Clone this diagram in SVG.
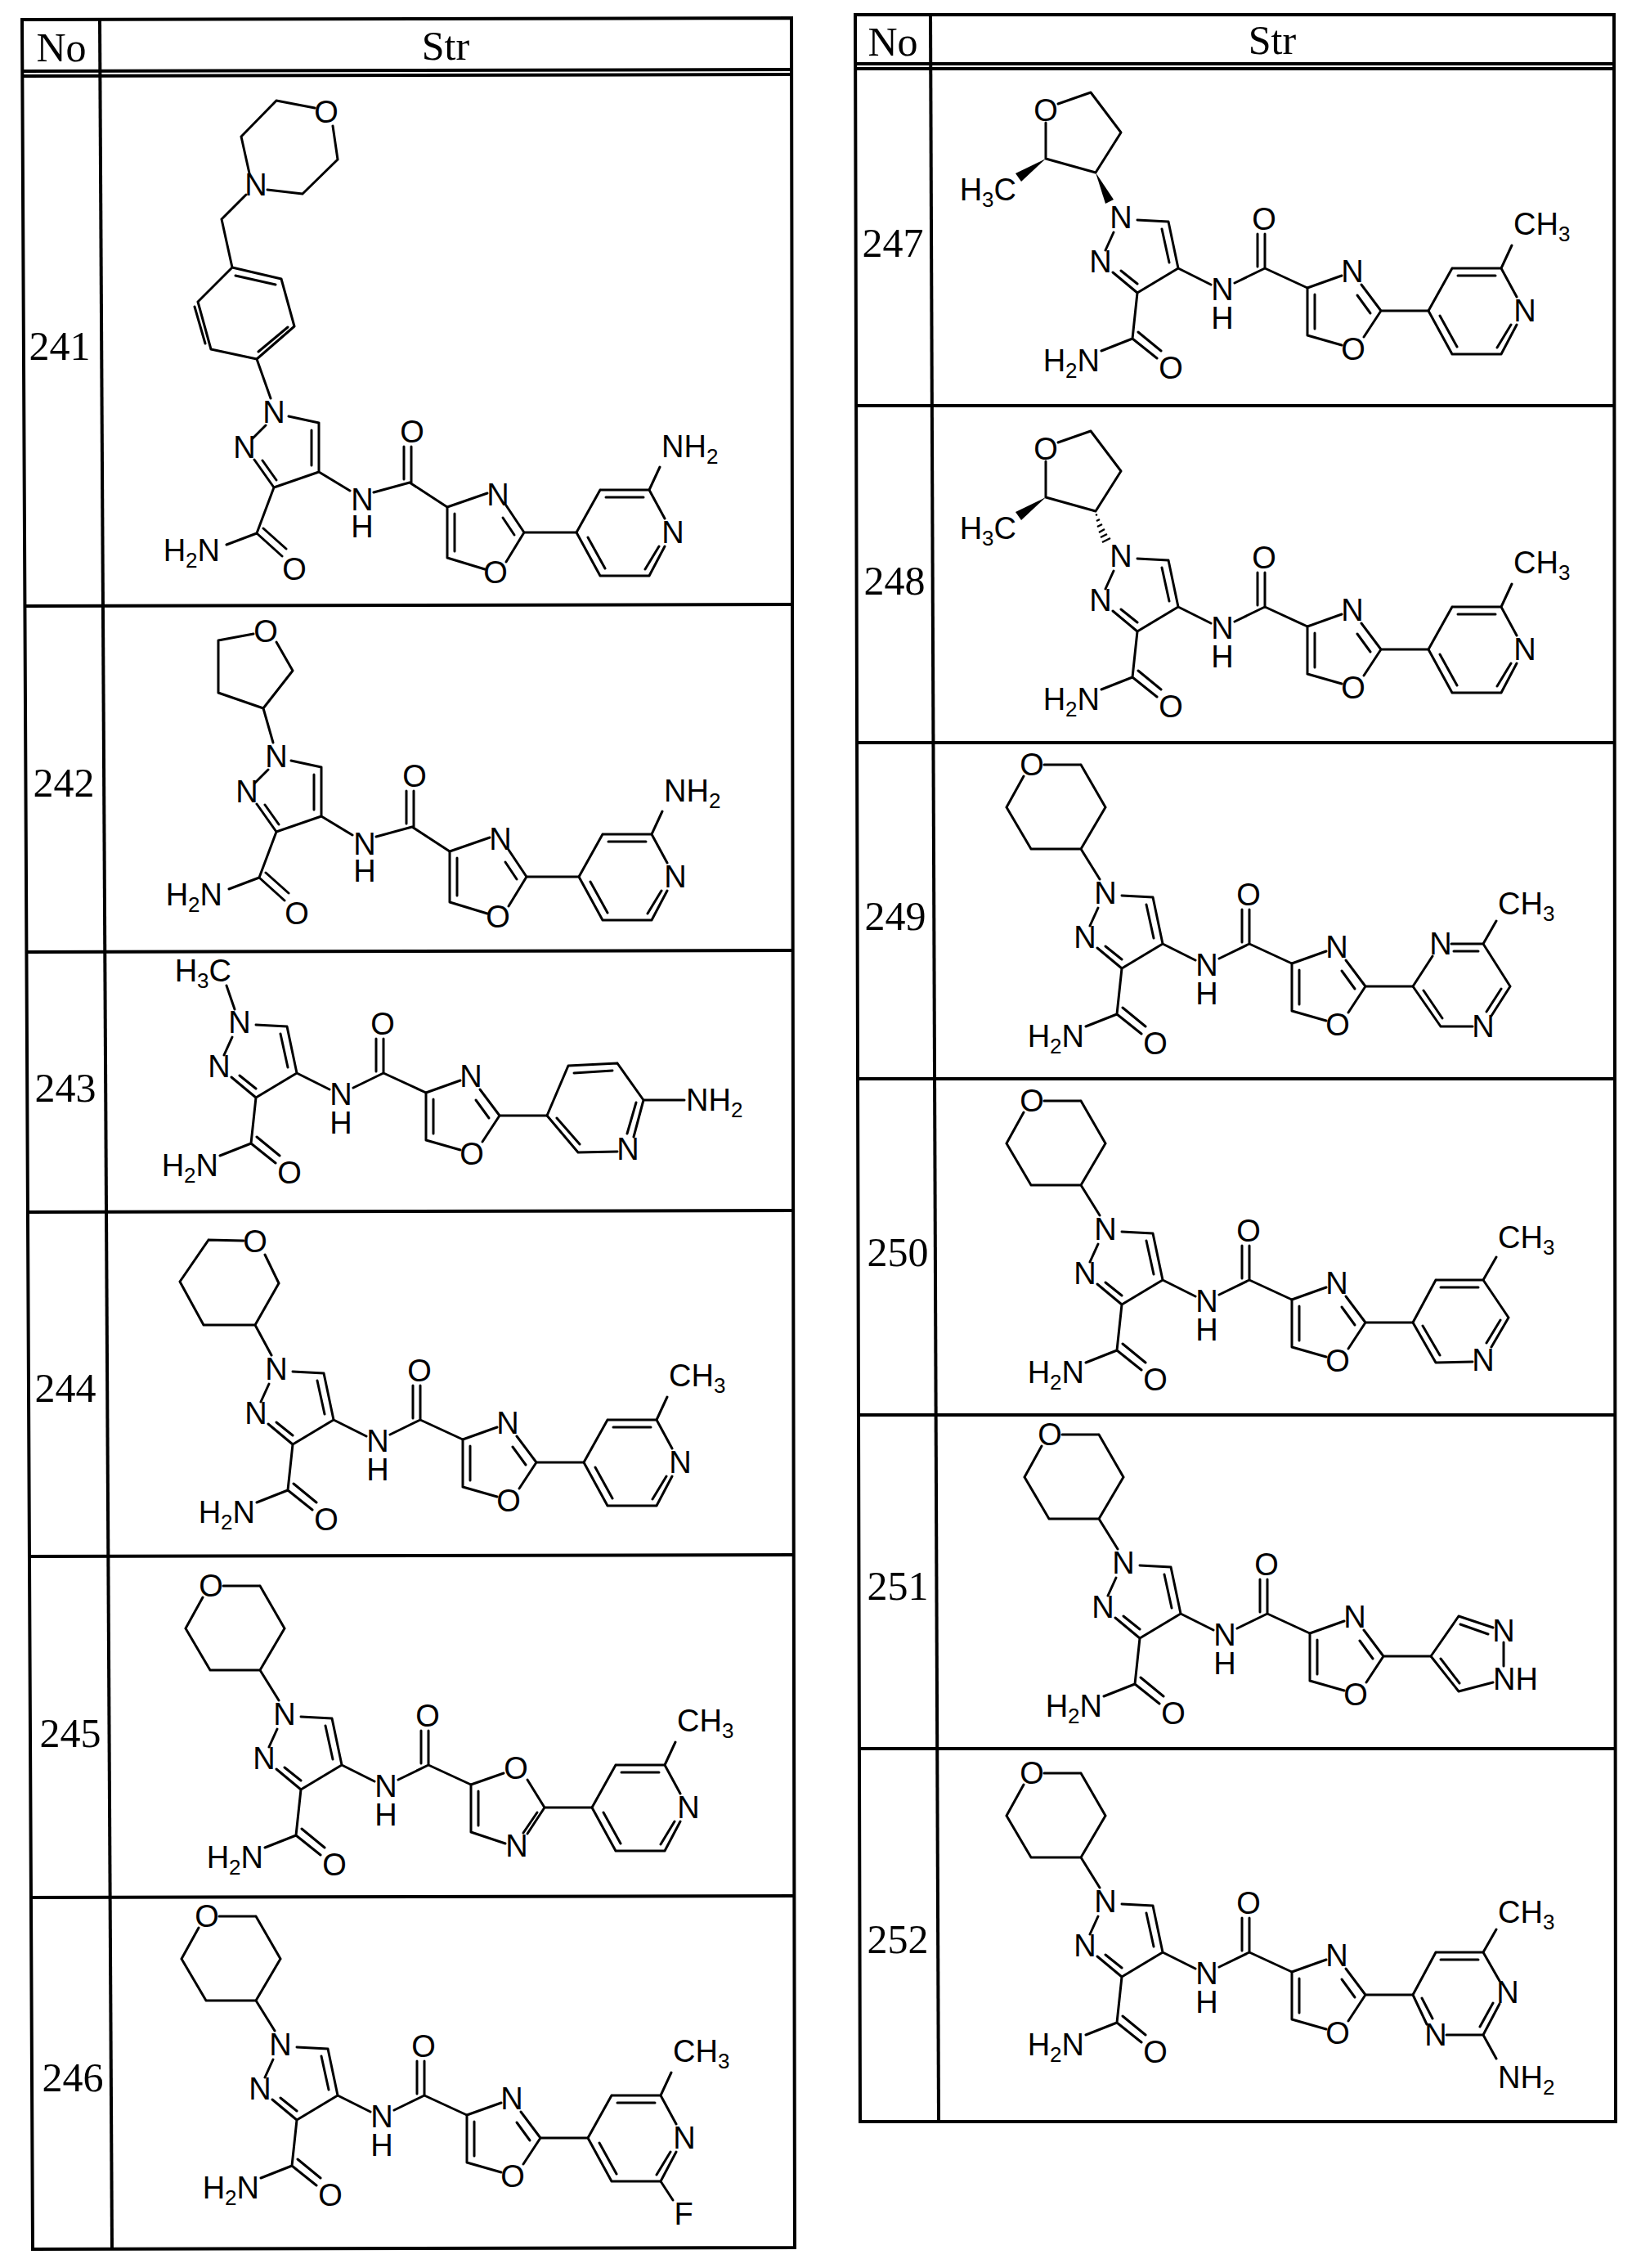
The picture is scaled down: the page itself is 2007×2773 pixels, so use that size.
<svg xmlns="http://www.w3.org/2000/svg" xmlns:xlink="http://www.w3.org/1999/xlink" width="2007" height="2773" viewBox="0 0 2007 2773">
<style>
.b{stroke:#000;stroke-width:3;fill:none;stroke-linecap:round}
.tb{stroke:#000;stroke-width:4;fill:none}
.a{font-family:"Liberation Sans",Arial,sans-serif;font-size:38px;fill:#000}
.m{text-anchor:middle}
.e{text-anchor:end}
.s{font-size:26px}
.t{font-family:"Liberation Serif","Times New Roman",serif;font-size:50px;fill:#000;text-anchor:middle}
</style>
<defs>
<g id="pz">
<path class="b" d="M18,5L55,13M55,13L55,73M46,22L46,65M55,73L0,92M0,92L-24,58M3,83L-14,59M-10,16L-26,32M55,73L93,96M122,98L166,86M168,86L168,42M159,82L159,42M166,86L212,116M0,92L-21,148M-21,148L-58,162M-21,148L10,176M-13,142L15,167"/>
<text class="a m" x="0" y="13">N</text>
<text class="a m" x="-36" y="56">N</text>
<text class="a m" x="108" y="120">N</text>
<text class="a m" x="108" y="153">H</text>
<text class="a m" x="169" y="37">O</text>
<text class="a m" x="25" y="205">O</text>
<text class="a e" x="-66" y="182">H<tspan class="s" dy="8">2</tspan><tspan dy="-8">N</tspan></text>
</g>
<g id="ox4">
<path class="b" d="M212,116L261,99M284,114L306,147M280,129L294,150M306,147L284,183M258,192L212,178M212,178L212,116M221,170L221,124M306,147L370,147"/>
<text class="a m" x="274" y="114">N</text>
<text class="a m" x="271" y="209">O</text>
</g>
<g id="pzf">
<path class="b" d="M20,3L58,5M58,5L70,62M50,14L59,55M70,62L20,92M20,92L-10,67M20,81L0,65M-19,40L-9,18M70,62L110,82M139,80L176,62M176,62L176,20M167,60L167,20M176,62L228,86M20,92L14,148M14,148L-24,163M14,148L44,172M21,140L49,163"/>
<text class="a m" x="0" y="13">N</text>
<text class="a m" x="-25" y="67">N</text>
<text class="a m" x="124" y="101">N</text>
<text class="a m" x="124" y="136">H</text>
<text class="a m" x="175" y="15">O</text>
<text class="a m" x="61" y="197">O</text>
<text class="a e" x="-26" y="188">H<tspan class="s" dy="8">2</tspan><tspan dy="-8">N</tspan></text>
</g>
<g id="oxf4">
<path class="b" d="M228,86L270,71M294,82L318,114M289,95L305,117M318,114L297,146M270,156L228,144M228,144L228,86M237,136L237,94M318,114L376,114"/>
<text class="a m" x="283" y="79">N</text>
<text class="a m" x="284" y="174">O</text>
</g>
<g id="oxf5">
<path class="b" d="M228,86L268,72M297,80L318,114M318,114L297,146M309,120L292,145M270,158L228,144M228,144L228,86M237,136L237,94M318,114L376,114"/>
<text class="a m" x="283" y="79">O</text>
<text class="a m" x="284" y="174">N</text>
</g>
<g id="pyr">
<path class="b" d="M0,0L29,-52M29,-52L89,-52M36,-43L82,-43M89,-52L108,-17M108,17L89,53M101,17L84,45M89,53L29,53M29,53L0,0M35,44L14,6M89,-52L102,-80"/>
<text class="a m" x="118" y="13">N</text>
</g>
<g id="thp4">
<path class="b" d="M-7,-17L-30,-54M-30,-54L0,-105M0,-105L-30,-157M-30,-157L-75,-157M-100,-143L-121,-105M-121,-105L-91,-54M-91,-54L-30,-54"/>
<text class="a m" x="-90" y="-144">O</text>
</g>
<g id="methf">
<path class="b" d="M-31,-55L0,-104M0,-104L-37,-153M-37,-153L-77,-139M-92,-116L-92,-72M-92,-72L-31,-55"/>
<polygon points="-92,-72 -122,-44 -129,-54" fill="#000"/>
<text class="a m" x="-92" y="-118">O</text>
<text class="a e" x="-128" y="-21">H<tspan class="s" dy="8">3</tspan><tspan dy="-8">C</tspan></text>
</g>
</defs>

<g id="table-left">
<path class="tb" d="M27,24L968,22L972,2748L40,2750Z"/>
<path class="tb" d="M122,24L137,2750"/>
<path class="tb" d="M28,87L968,85M28,93L968,91M30,741L969,739M31,1164L970,1162M32,1482L970,1480M35,1903L971,1901M37,2320L971,2318"/>
<text class="t" x="75" y="75">No</text>
<text class="t" x="545" y="73">Str</text>
</g>
<g id="table-right">
<path class="tb" d="M1046,18L1974,18L1976,2594L1052,2594Z"/>
<path class="tb" d="M1138,18L1148,2594"/>
<path class="tb" d="M1046,78L1974,78M1046,84L1974,84M1048,496L1975,496M1049,908L1975,908M1050,1319L1975,1319M1050,1730L1976,1730M1051,2138L1976,2138"/>
<text class="t" x="1092" y="68">No</text>
<text class="t" x="1556" y="66">Str</text>
</g>

<g id="c241">
<text class="t" x="73" y="440">241</text>
<g transform="translate(335,504)">
<use xlink:href="#pz"/><use xlink:href="#ox4"/>
<path class="b" d="M-4,-17L-21,-65M-21,-65L-77,-77M-77,-77L-93,-135M-84,-84L-97,-129M-93,-135L-51,-177M-51,-177L9,-163M-47,-167L2,-156M9,-163L25,-105M25,-105L-21,-65M17,-104L-19,-74M-51,-177L-64,-236M-64,-236L-34,-266M-8,-272L35,-267M35,-267L78,-309M78,-309L72,-350M50,-372L3,-381M3,-381L-40,-337M-40,-337L-30,-292"/>
<text class="a m" x="-22" y="-265">N</text>
<text class="a m" x="64" y="-354">O</text>
<g transform="translate(370,147)"><use xlink:href="#pyr"/><text class="a" x="104" y="-92">NH<tspan class="s" dy="8">2</tspan></text></g>
</g>
</g>

<g id="c242">
<text class="t" x="78" y="974">242</text>
<g transform="translate(338,925)">
<use xlink:href="#pz"/><use xlink:href="#ox4"/>
<path class="b" d="M-4,-17L-16,-59M-16,-59L20,-105M20,-105L0,-140M-28,-150L-71,-142M-71,-142L-71,-78M-71,-78L-16,-59"/>
<text class="a m" x="-13" y="-140">O</text>
<g transform="translate(370,147)"><use xlink:href="#pyr"/><text class="a" x="104" y="-92">NH<tspan class="s" dy="8">2</tspan></text></g>
</g>
</g>

<g id="c243">
<text class="t" x="80" y="1347">243</text>
<g transform="translate(293,1250)">
<use xlink:href="#pzf"/><use xlink:href="#oxf4"/>
<path class="b" d="M-6,-16L-16,-45"/>
<text class="a e" x="-10" y="-50">H<tspan class="s" dy="8">3</tspan><tspan dy="-8">C</tspan></text>
<g transform="translate(376,114)">
<path class="b" d="M0,0L26,-61M26,-61L86,-64M33,-52L80,-55M86,-64L118,-19M118,-19L106,26M109,-16L98,22M86,44L38,45M38,45L0,0M40,35L12,3M118,-19L168,-19"/>
<text class="a m" x="99" y="54">N</text>
<text class="a" x="170" y="-6">NH<tspan class="s" dy="8">2</tspan></text>
</g>
</g>
</g>

<g id="c244">
<text class="t" x="80" y="1714">244</text>
<g transform="translate(338,1674)">
<use xlink:href="#pzf"/><use xlink:href="#oxf4"/>
<path class="b" d="M-6,-17L-26,-54M-26,-54L3,-105M3,-105L-14,-140M-40,-157L-83,-158M-83,-158L-118,-107M-118,-107L-89,-54M-89,-54L-26,-54"/>
<text class="a m" x="-26" y="-143">O</text>
<g transform="translate(376,114)"><use xlink:href="#pyr"/><text class="a" x="104" y="-93">CH<tspan class="s" dy="8">3</tspan></text></g>
</g>
</g>

<g id="c245">
<text class="t" x="86" y="2136">245</text>
<g transform="translate(348,2096)">
<use xlink:href="#pzf"/><use xlink:href="#oxf5"/><use xlink:href="#thp4"/>
<g transform="translate(376,114)"><use xlink:href="#pyr"/><text class="a" x="104" y="-93">CH<tspan class="s" dy="8">3</tspan></text></g>
</g>
</g>

<g id="c246">
<text class="t" x="89" y="2557">246</text>
<g transform="translate(343,2500)">
<use xlink:href="#pzf"/><use xlink:href="#oxf4"/><use xlink:href="#thp4"/>
<g transform="translate(376,114)"><use xlink:href="#pyr"/><text class="a" x="104" y="-93">CH<tspan class="s" dy="8">3</tspan></text>
<path class="b" d="M89,53L104,76"/><text class="a m" x="117" y="106">F</text></g>
</g>
</g>

<g id="c247">
<text class="t" x="1092" y="314">247</text>
<g transform="translate(1371,266)">
<use xlink:href="#pzf"/><use xlink:href="#oxf4"/><use xlink:href="#methf"/>
<polygon points="-31,-55 -9,-22 -19,-17" fill="#000"/>
<g transform="translate(376,114)"><use xlink:href="#pyr"/><text class="a" x="104" y="-93">CH<tspan class="s" dy="8">3</tspan></text></g>
</g>
</g>

<g id="c248">
<text class="t" x="1094" y="727">248</text>
<g transform="translate(1371,680)">
<use xlink:href="#pzf"/><use xlink:href="#oxf4"/><use xlink:href="#methf"/>
<path stroke="#000" stroke-width="2.5" d="M-29,-51L-31,-50M-26,-45L-30,-43M-23,-39L-29,-36M-20,-33L-27,-29M-17,-27L-25,-23M-13,-22L-23,-17"/>
<g transform="translate(376,114)"><use xlink:href="#pyr"/><text class="a" x="104" y="-93">CH<tspan class="s" dy="8">3</tspan></text></g>
</g>
</g>

<g id="c249">
<text class="t" x="1095" y="1137">249</text>
<g transform="translate(1352,1092)">
<use xlink:href="#pzf"/><use xlink:href="#oxf4"/><use xlink:href="#thp4"/>
<g transform="translate(376,114)">
<path class="b" d="M0,0L24,-37M47,-52L86,-52M50,-43L80,-43M86,-52L119,0M119,0L96,36M108,3L90,31M73,49L34,49M34,49L0,0M36,39L13,5M86,-52L102,-80"/>
<text class="a m" x="34" y="-39">N</text>
<text class="a m" x="86" y="62">N</text>
<text class="a" x="104" y="-88">CH<tspan class="s" dy="8">3</tspan></text>
</g>
</g>
</g>

<g id="c250">
<text class="t" x="1098" y="1548">250</text>
<g transform="translate(1352,1503)">
<use xlink:href="#pzf"/><use xlink:href="#oxf4"/><use xlink:href="#thp4"/>
<g transform="translate(376,114)">
<path class="b" d="M0,0L28,-52M28,-52L86,-52M34,-43L80,-43M86,-52L117,-6M117,-6L96,30M107,-3L90,25M73,48L28,49M28,49L0,0M33,40L12,4M86,-52L102,-80"/>
<text class="a m" x="86" y="59">N</text>
<text class="a" x="104" y="-91">CH<tspan class="s" dy="8">3</tspan></text>
</g>
</g>
</g>

<g id="c251">
<text class="t" x="1098" y="1956">251</text>
<g transform="translate(1374,1911)">
<use xlink:href="#pzf"/><use xlink:href="#oxf4"/><use xlink:href="#thp4"/>
<g transform="translate(376,114)">
<path class="b" d="M0,0L34,-49M34,-49L76,-35M36,-39L70,-27M89,-17L89,12M76,32L34,43M34,43L0,0M35,33L12,3"/>
<text class="a m" x="89" y="-18">N</text>
<text class="a" x="76" y="41">NH</text>
</g>
</g>
</g>

<g id="c252">
<text class="t" x="1098" y="2388">252</text>
<g transform="translate(1352,2325)">
<use xlink:href="#pzf"/><use xlink:href="#oxf4"/><use xlink:href="#thp4"/>
<g transform="translate(376,114)">
<path class="b" d="M0,0L28,-52M28,-52L86,-52M34,-43L80,-43M86,-52L106,-17M106,11L86,49M98,10L82,39M86,49L41,49M17,36L0,0M24,29L11,4M86,-52L102,-80M86,49L102,78"/>
<text class="a m" x="116" y="10">N</text>
<text class="a m" x="28" y="62">N</text>
<text class="a" x="104" y="-88">CH<tspan class="s" dy="8">3</tspan></text>
<text class="a" x="104" y="114">NH<tspan class="s" dy="8">2</tspan></text>
</g>
</g>
</g>
</svg>
